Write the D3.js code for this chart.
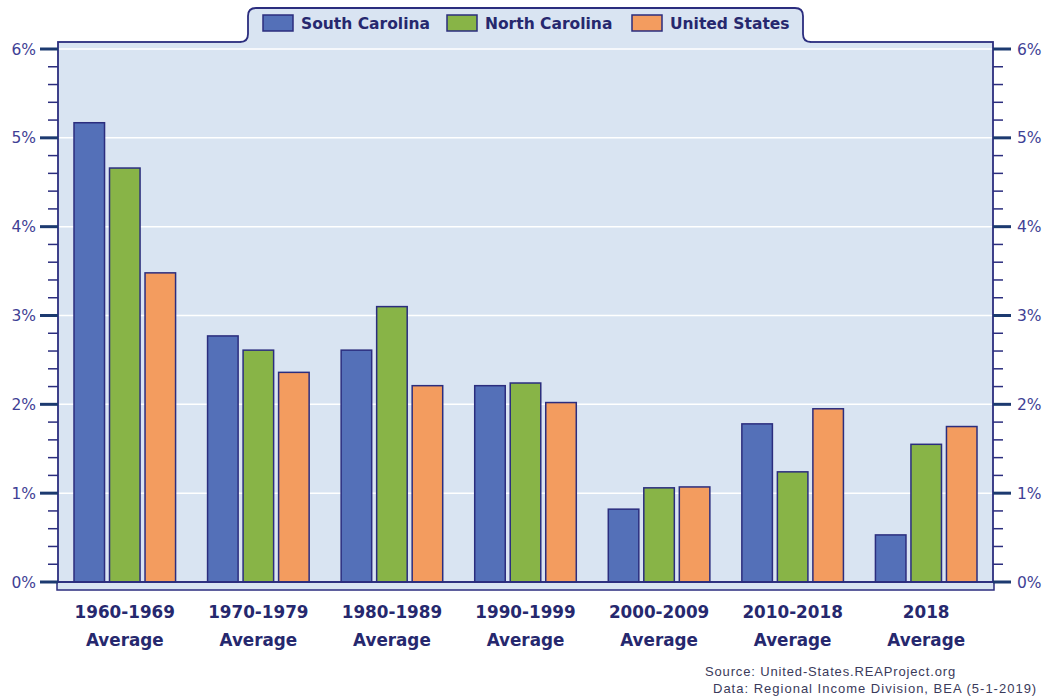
<!DOCTYPE html>
<html>
<head>
<meta charset="utf-8">
<script src="https://cdn.jsdelivr.net/npm/d3@7"></script>
<style>
  html, body { margin: 0; padding: 0; background: #ffffff; }
  svg { display: block; }
</style>
</head>
<body>
<svg id="chart" width="1049" height="698"></svg>
<script>
// ---- data ----
const categories = ["1960-1969|Average", "1970-1979|Average", "1980-1989|Average", "1990-1999|Average", "2000-2009|Average", "2010-2018|Average", "2018|Average"];
const seriesNames = ["South Carolina", "North Carolina", "United States"];
const southCarolina = [5.17, 2.77, 2.61, 2.21, 0.82, 1.78, 0.53];
const northCarolina = [4.66, 2.61, 3.10, 2.24, 1.06, 1.24, 1.55];
const unitedStates  = [3.48, 2.36, 2.21, 2.02, 1.07, 1.95, 1.75];
const yTicks = [0, 1, 2, 3, 4, 5, 6];
const sourceLines = ["Source: United-States.REAProject.org", "Data: Regional Income Division, BEA (5-1-2019)"];

const seriesValues = [southCarolina, northCarolina, unitedStates];
const colors = ["#5470b8", "#88b447", "#f39c5f"];
const navy = "#2b2d7e";
const plotBg = "#d9e4f2";

const svg = d3.select("#chart");
const L = 58, R = 993, T = 42, B = 582;

const y = d3.scaleLinear().domain([0, 6]).range([B, 49]);
const x0 = d3.scaleBand().domain(categories).range([L, R]).padding(0);
const x1 = d3.scaleBand().domain(seriesNames).range([16, x0.bandwidth() - 16]).paddingInner(0.14);

// plot background
svg.append("rect").attr("x", L).attr("y", T).attr("width", R - L).attr("height", B - T)
  .attr("fill", plotBg);

// floor
svg.append("rect").attr("x", L - 1).attr("y", B).attr("width", R - L + 2).attr("height", 8)
  .attr("fill", plotBg).attr("stroke", navy).attr("stroke-width", 1.5);

// gridlines
svg.append("g").selectAll("line").data(yTicks.filter(d => d > 0)).join("line")
  .attr("x1", L).attr("x2", R).attr("y1", d => y(d)).attr("y2", d => y(d))
  .attr("stroke", "#ffffff").attr("stroke-width", 1.5);

// bars
const groups = svg.append("g").selectAll("g").data(categories).join("g")
  .attr("transform", c => `translate(${x0(c)},0)`);
groups.selectAll("rect").data((c, i) => seriesNames.map((s, j) => ({ s, j, v: seriesValues[j][i] })))
  .join("rect")
  .attr("x", d => x1(d.s)).attr("width", x1.bandwidth())
  .attr("y", d => y(d.v)).attr("height", d => y(0) - y(d.v))
  .attr("fill", d => colors[d.j]).attr("stroke", navy).attr("stroke-width", 1.5);

// plot border
svg.append("rect").attr("x", L).attr("y", T).attr("width", R - L).attr("height", B - T)
  .attr("fill", "none").attr("stroke", navy).attr("stroke-width", 1.8);

// axes: minor ticks
const minor = d3.range(0, 30).map(i => i * 0.2).filter(v => Math.abs(v - Math.round(v)) > 0.01);
svg.append("g").selectAll("line").data(minor).join("line")
  .attr("x1", L - 10).attr("x2", L).attr("y1", d => y(d)).attr("y2", d => y(d))
  .attr("stroke", navy).attr("stroke-width", 1.5);
svg.append("g").selectAll("line").data(minor).join("line")
  .attr("x1", R).attr("x2", R + 10).attr("y1", d => y(d)).attr("y2", d => y(d))
  .attr("stroke", navy).attr("stroke-width", 1.5);

// major ticks
svg.append("g").selectAll("line").data(yTicks).join("line")
  .attr("x1", L - 18).attr("x2", L).attr("y1", d => y(d)).attr("y2", d => y(d))
  .attr("stroke", "#1c3a70").attr("stroke-width", 3);
svg.append("g").selectAll("line").data(yTicks).join("line")
  .attr("x1", R).attr("x2", R + 18).attr("y1", d => y(d)).attr("y2", d => y(d))
  .attr("stroke", "#1c3a70").attr("stroke-width", 3);

// tick labels
const tickFont = "'DejaVu Sans', Verdana, sans-serif";
svg.append("g").selectAll("text").data(yTicks).join("text")
  .attr("x", 36).attr("y", d => y(d)).attr("dy", "0.36em")
  .attr("text-anchor", "end").attr("font-family", tickFont).attr("font-size", 15.5)
  .attr("fill", "#3f3f95").text(d => d + "%");
svg.append("g").selectAll("text").data(yTicks).join("text")
  .attr("x", 1017).attr("y", d => y(d)).attr("dy", "0.36em")
  .attr("text-anchor", "start").attr("font-family", tickFont).attr("font-size", 15.5)
  .attr("fill", "#3f3f95").text(d => d + "%");

// category labels
const catG = svg.append("g").selectAll("text").data(categories).join("text")
  .attr("x", c => x0(c) + x0.bandwidth() / 2)
  .attr("text-anchor", "middle").attr("font-family", tickFont).attr("font-weight", "bold")
  .attr("font-size", 16.8).attr("fill", "#26286e");
catG.selectAll("tspan").data(c => c.split("|")).join("tspan")
  .attr("x", function () { return d3.select(this.parentNode).attr("x"); })
  .attr("y", (d, i) => 618 + i * 28).text(d => d);

// legend tab
const tl = 248, tr = 803, tt = 8, tb = 42, r = 8;
const tabFill = `M${tl - 8},${tb} Q${tl},${tb} ${tl},${tb - r} L${tl},${tt + r} Q${tl},${tt} ${tl + r},${tt} L${tr - r},${tt} Q${tr},${tt} ${tr},${tt + r} L${tr},${tb - r} Q${tr},${tb} ${tr + 8},${tb} L${tr + 8},${tb + 2} L${tl - 8},${tb + 2} Z`;
svg.append("path").attr("d", tabFill).attr("fill", plotBg);
const tabLine = `M${tl - 8},${tb} Q${tl},${tb} ${tl},${tb - r} L${tl},${tt + r} Q${tl},${tt} ${tl + r},${tt} L${tr - r},${tt} Q${tr},${tt} ${tr},${tt + r} L${tr},${tb - r} Q${tr},${tb} ${tr + 8},${tb}`;
svg.append("path").attr("d", tabLine).attr("fill", "none").attr("stroke", navy).attr("stroke-width", 1.8);

const legendX = [263, 447, 632];
const leg = svg.append("g").selectAll("g").data(seriesNames).join("g")
  .attr("transform", (d, i) => `translate(${legendX[i]},0)`);
leg.append("rect").attr("x", 0).attr("y", 15).attr("width", 30).attr("height", 16)
  .attr("fill", (d, i) => colors[i]).attr("stroke", navy).attr("stroke-width", 1.5);
leg.append("text").attr("x", 38).attr("y", 23).attr("dy", "0.36em")
  .attr("font-family", tickFont).attr("font-weight", "bold").attr("font-size", 15.5)
  .attr("fill", "#26286e").text(d => d);

// source
svg.append("g").selectAll("text").data(sourceLines).join("text")
  .attr("x", (d, i) => i === 0 ? 705 : 713).attr("y", (d, i) => 676 + i * 17)
  .attr("font-family", "'Liberation Sans', Arial, sans-serif").attr("font-size", 13)
  .attr("letter-spacing", (d, i) => i === 0 ? 0.85 : 1.0)
  .attr("fill", "#3a3a5a").text(d => d);
</script>
</body>
</html>
